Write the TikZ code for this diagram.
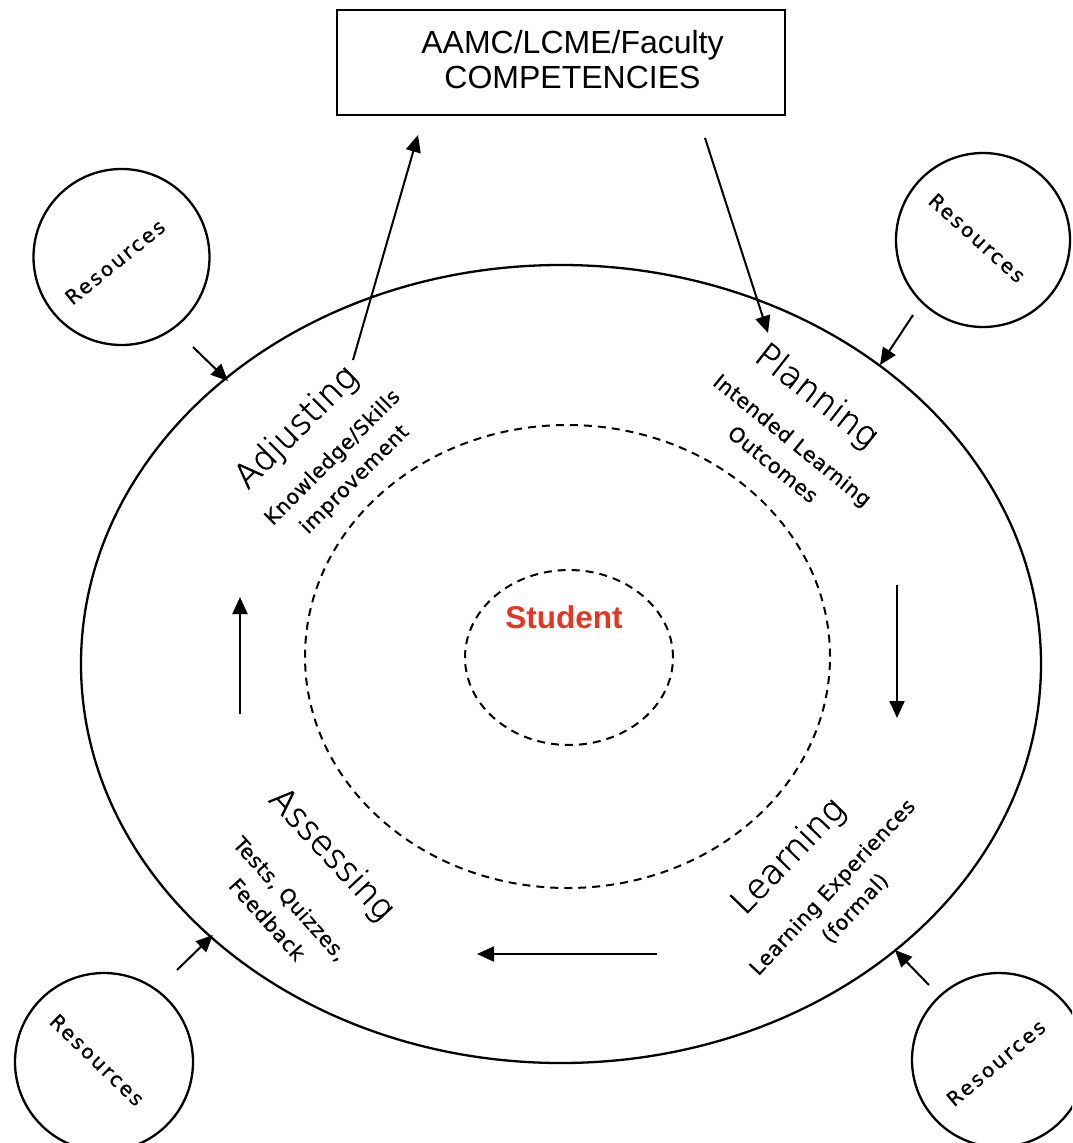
\documentclass[tikz,border=0pt]{standalone}
\usepackage{fontspec}
\setmainfont{DejaVu Sans}
\newfontfamily\thinfont[FakeBold=1.6]{DejaVu Sans ExtraLight}
\newfontfamily\subfont[LetterSpace=3,FakeBold=0.6]{DejaVu Sans}
\newfontfamily\arialfont{Liberation Sans}
\newfontfamily\resfont[LetterSpace=12,FakeBold=0.8]{DejaVu Sans}
\usetikzlibrary{arrows.meta,shapes.geometric}
\definecolor{studred}{RGB}{228,55,35}
\begin{document}
\begin{tikzpicture}[x=1pt,y=-1pt,
  line width=2.3pt,
  ell/.style={draw,ellipse,inner sep=0pt,outer sep=0pt},
  dashline/.style={dash pattern=on 8pt off 6pt,line width=2pt},
  resc/.style={draw,circle,inner sep=0pt,outer sep=0pt,minimum size=#1},
  restext/.style={font=\resfont\fontsize{20}{21}\selectfont,inner sep=0pt},
  stage/.style={font=\thinfont\fontsize{34}{40}\selectfont,inner sep=0pt},
  sub/.style={font=\subfont\fontsize{20.5}{31}\selectfont,align=center,inner sep=0pt},
  arr/.style={-{Triangle[length=17pt,width=15pt]},line width=2pt}
]
\useasboundingbox (0,0) rectangle (1072,1143);
\clip (0,0) rectangle (1072,1143);

% top box
\node[draw,minimum width=448pt,minimum height=105pt,inner sep=0pt,outer sep=0pt] (box) at (561,62.5) {};
\node[font=\arialfont\fontsize{32}{35}\selectfont,align=center,inner sep=0pt] (boxtext) at (572.5,60) {AAMC/LCME/Faculty\\COMPETENCIES};

% ellipses
\node[ell,minimum width=960pt,minimum height=798pt] (outer) at (561,664) {};
\node[ell,dashline,minimum width=525pt,minimum height=463pt] (mid) at (567.5,656.5) {};
\node[ell,dashline,minimum width=208pt,minimum height=175pt] (inner) at (569,657.5) {};
\node[font=\arialfont\bfseries\fontsize{31.5}{36}\selectfont,text=studred,inner sep=0pt] (student) at (564,617) {Student};

% resources
\node[resc=176pt] (r1) at (121.5,257) {};
\node[restext,rotate=39] (r1t) at (115,262) {Resources};
\node[resc=174pt] (r2) at (983,240) {};
\node[restext,rotate=-42] (r2t) at (977,238) {Resources};
\node[resc=178pt] (r3) at (104,1062) {};
\node[restext,rotate=-44] (r3t) at (97,1060) {Resources};
\node[resc=174pt] (r4) at (999,1060) {};
\node[restext,rotate=40] (r4t) at (996,1063) {Resources};

% stage labels
\node[stage,rotate=45] (adj) at (297,428) {Adjusting};
\node[sub,rotate=45] (adjsub) at (344,469) {Knowledge/Skills\\improvement};
\node[stage,rotate=-38] (plan) at (816,397) {Planning};
\node[sub,rotate=-39] (plansub) at (783,452) {Intended Learning\\Outcomes};
\node[stage,rotate=46] (learn) at (789,857) {Learning};
\node[sub,rotate=47] (learnsub) at (844,898) {Learning Experiences\\(formal)};
\node[stage,rotate=-47] (assess) at (331,855) {Assessing};
\node[sub,rotate=-48] (assesssub) at (279,909) {Tests, Quizzes,\\Feedback};

% arrows to/from box
\coordinate (a1s) at (353,360); \coordinate (a1e) at (418,135);
\coordinate (a2s) at (705,138); \coordinate (a2e) at (768,333);
\draw[arr] (a1s) -- (a1e);
\draw[arr] (a2s) -- (a2e);

% resource arrows
\coordinate (b1s) at (193,347); \coordinate (b1e) at (228,381);
\coordinate (b2s) at (913,315); \coordinate (b2e) at (880,365);
\coordinate (b3s) at (177,970); \coordinate (b3e) at (213,935);
\coordinate (b4s) at (929,985); \coordinate (b4e) at (895,950);
\draw[arr] (b1s) -- (b1e);
\draw[arr] (b2s) -- (b2e);
\draw[arr] (b3s) -- (b3e);
\draw[arr] (b4s) -- (b4e);

% cycle arrows
\coordinate (c1s) at (897,585); \coordinate (c1e) at (897,718);
\coordinate (c2s) at (657,954); \coordinate (c2e) at (477,954);
\coordinate (c3s) at (240,714); \coordinate (c3e) at (240,597);
\draw[arr] (c1s) -- (c1e);
\draw[arr] (c2s) -- (c2e);
\draw[arr] (c3s) -- (c3e);
\end{tikzpicture}
\end{document}
